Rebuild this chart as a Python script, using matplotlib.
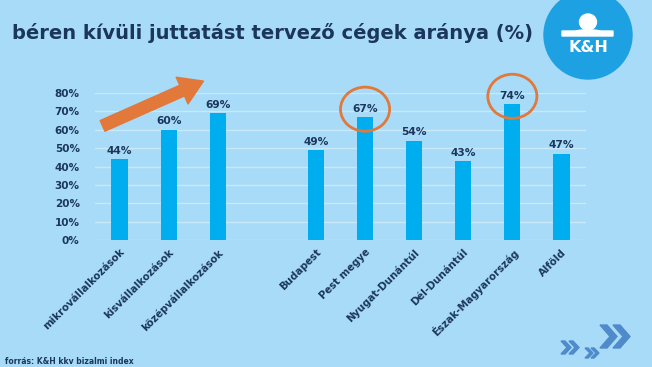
import matplotlib
matplotlib.use("Agg")
import matplotlib.pyplot as plt
from matplotlib.patches import Ellipse, FancyArrowPatch, Polygon
import numpy as np

# ---- data ----
categories = ["mikrovállalkozások", "kisvállalkozások", "középvállalkozások", "",
              "Budapest", "Pest megye", "Nyugat-Dunántúl", "Dél-Dunántúl",
              "Észak-Magyarország", "Alföld"]
values = [44, 60, 69, None, 49, 67, 54, 43, 74, 47]
yticks = [0, 10, 20, 30, 40, 50, 60, 70, 80]
highlight = ["Pest megye", "Észak-Magyarország"]

title = "béren kívüli juttatást tervező cégek aránya (%)"
source = "forrás: K&H kkv bizalmi index"

BG = "#A7DBF7"
BAR = "#00AEEF"
NAVY = "#1B365D"
GRID = "#C9E9FB"
ORANGE = "#E2783A"

W, H = 652, 367
fig = plt.figure(figsize=(W / 100, H / 100), dpi=100, facecolor=BG)
ax = fig.add_axes([95 / W, 1 - 240 / H, (586 - 95) / W, (240 - 93) / H])
ax.set_facecolor(BG)


def px(xp, yp):
    # pixel position (top-left origin) -> figure fraction
    return (xp / W, 1 - yp / H)


x = np.arange(len(categories))
for xi, v in zip(x, values):
    if v is None:
        continue
    ax.bar(xi, v, width=0.33, color=BAR, zorder=3)
    ax.text(xi, v + 1.8, f"{v}%", ha="center", va="bottom", fontsize=7.7,
            fontweight="bold", color=NAVY, zorder=4)

ax.set_xlim(-0.5, 9.5)
ax.set_ylim(0, 80)
ax.set_yticks(yticks)
ax.set_yticklabels([f"{t}%" for t in yticks], fontsize=7.5, fontweight="bold", color=NAVY)
ax.set_xticks(x)
ax.set_xticklabels(categories, rotation=45, ha="right", rotation_mode="anchor",
                   fontsize=7.3, fontweight="bold", color=NAVY)
ax.tick_params(axis="both", length=0)
ax.tick_params(axis="y", pad=11)
ax.tick_params(axis="x", pad=5)
ax.grid(axis="y", color=GRID, linewidth=1, zorder=0)
for s in ax.spines.values():
    s.set_visible(False)

# orange circles around the highlighted labels
for name in highlight:
    i = categories.index(name)
    v = values[i]
    ax.add_patch(Ellipse((i, v + 4.2), 1.0, 24, fill=False, edgecolor=ORANGE,
                         linewidth=2.0, zorder=5, clip_on=False))

# orange trend arrow
arr = FancyArrowPatch(px(100, 127), px(206, 80), transform=fig.transFigure,
                      arrowstyle="simple,head_width=1.5,head_length=1.2,tail_width=0.6",
                      mutation_scale=14, color=ORANGE, zorder=6)
fig.patches.append(arr)

# title
fig.text(12 / W, 1 - 33 / H, title, fontsize=14, fontweight="bold", color=NAVY,
         ha="left", va="center")

# logo
LOGO = "#1DA1E2"
fig.patches.append(Ellipse(px(588, 35), 88 / W, 88 / H, transform=fig.transFigure,
                           color=LOGO, zorder=1))
fig.patches.append(Ellipse(px(588, 22), 17 / W, 16 / H, transform=fig.transFigure,
                           color="white", zorder=2))
band = [(562, 31), (575, 31), (582, 30), (594, 30), (601, 31), (613, 31),
        (613, 36), (562, 36)]
fig.patches.append(Polygon([px(a, b) for a, b in band], closed=True,
                           transform=fig.transFigure, color="white", zorder=2))
fig.text(588 / W, 1 - 48 / H, "K&H", fontsize=11.5, fontweight="bold", color="white",
         ha="center", va="center", zorder=3)

# chevrons bottom right
CHEV = "#4F8BCB"


def chevron(x0, y0, h, t, d):
    pts = [(x0, y0), (x0 + t, y0), (x0 + t + d, y0 + h / 2), (x0 + t, y0 + h),
           (x0, y0 + h), (x0 + d, y0 + h / 2)]
    fig.patches.append(Polygon([px(a, b) for a, b in pts], closed=True,
                               transform=fig.transFigure, color=CHEV, zorder=2))


chevron(600, 325, 23, 7, 10)
chevron(613, 325, 23, 7, 10)
chevron(561, 341, 13, 4, 6)
chevron(569, 341, 13, 4, 6)
chevron(585, 348, 10, 3, 5)
chevron(591, 348, 10, 3, 5)

fig.text(5 / W, 1 - 361 / H, source, fontsize=5.5, fontweight="bold", color=NAVY,
         ha="left", va="center")

fig.savefig("out.png", dpi=100, facecolor=BG)
